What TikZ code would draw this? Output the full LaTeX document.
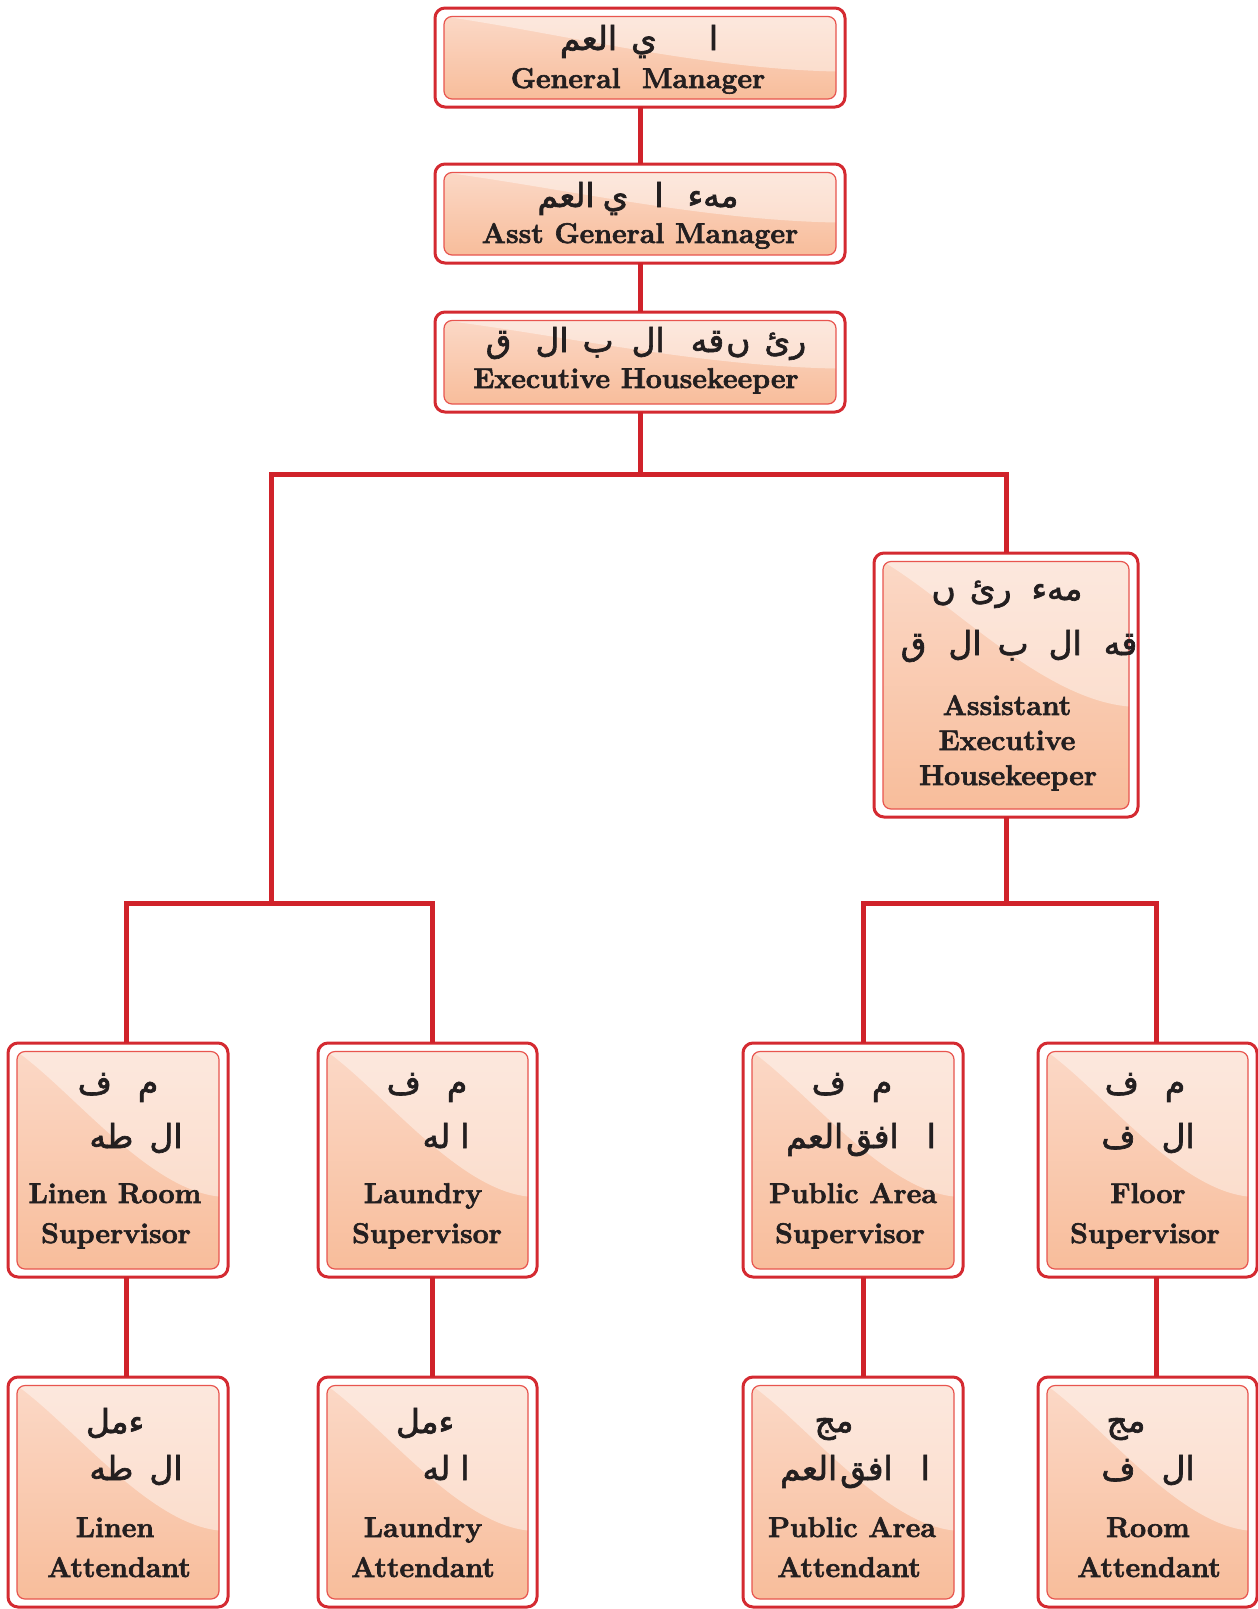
\documentclass[tikz,border=0pt]{standalone}
\usepackage{fontspec}
\setmainfont{Latin Modern Roman}[BoldFeatures={FakeBold=2.2}]
\newfontfamily\arabicfont[Script=Arabic,FakeBold=2]{DejaVu Sans}
\TeXXeTstate=1
\usetikzlibrary{calc}
\definecolor{boxred}{HTML}{D42A31}
\definecolor{linkred}{HTML}{D0222A}
\definecolor{innerred}{HTML}{E8554F}
\definecolor{peachtop}{HTML}{FBD8C6}
\definecolor{peachbot}{HTML}{F8BD9B}
\definecolor{inktext}{HTML}{231F20}
\newcommand\ar[1]{{\arabicfont\beginR #1\endR}}
\newcommand\orgbox[6]{%
  \node[outerbox, minimum width={(#4-#2)*1pt}, minimum height={(#5-#3)*1pt}] (#1) at (#2,#3) {};
  \pgfmathsetmacro\bL{#2+9}\pgfmathsetmacro\bT{#3+8.5}%
  \pgfmathsetmacro\bR{#4-9}\pgfmathsetmacro\bB{#5-8}%
  \pgfmathsetmacro\bW{\bR-\bL}\pgfmathsetmacro\bH{#6}%
  \shade[top color=peachtop, bottom color=peachbot, rounded corners=8pt] (\bL,\bT) rectangle (\bR,\bB);
  \begin{scope}
    \clip[rounded corners=8pt] (\bL,\bT) rectangle (\bR,\bB);
    \fill[white, fill opacity=0.42] (\bL,\bT) .. controls ({\bL+0.28*\bW},{\bT+0.28*\bH}) and ({\bL+0.65*\bW},{\bT+0.95*\bH}) .. (\bR,{\bT+\bH}) -- (\bR,\bT) -- cycle;
  \end{scope}
  \draw[innerred, line width=1.2pt, rounded corners=8pt] (\bL,\bT) rectangle (\bR,\bB);
}
\begin{document}
\begin{tikzpicture}[x=1pt,y=-1pt,
  outerbox/.style={draw=boxred, line width=3pt, rounded corners=10pt, fill=white, inner sep=0pt, outer sep=0pt, anchor=north west},
  link/.style={draw=linkred, line width=5pt, line join=miter},
  entext/.style={font=\fontsize{28.5}{34}\selectfont\bfseries, text=inktext, inner sep=0pt, anchor=base},
  artext/.style={font=\fontsize{33}{36}\selectfont, text=inktext, inner sep=0pt, anchor=base}]
\useasboundingbox (0,0) rectangle (1258,1609);

% boxes
\orgbox{gm}{435}{8}{845}{107}{55}
\orgbox{agm}{435}{164}{845}{263}{50}
\orgbox{eh}{435}{312}{845}{412}{48}
\orgbox{aeh}{874}{553}{1138}{817}{145}
\orgbox{lsup}{8}{1043}{228}{1277}{145}
\orgbox{dsup}{318}{1043}{537}{1277}{145}
\orgbox{psup}{743}{1043}{963}{1277}{145}
\orgbox{fsup}{1038}{1043}{1257}{1277}{145}
\orgbox{latt}{8}{1377}{228}{1607}{145}
\orgbox{datt}{318}{1377}{537}{1607}{145}
\orgbox{patt}{743}{1377}{963}{1607}{145}
\orgbox{ratt}{1038}{1377}{1257}{1607}{145}

% junction coordinates
\coordinate (j1) at (640,474);
\coordinate (jl) at (271,474);
\coordinate (jr) at (1006,474);
\coordinate (jl2) at (271,903);
\coordinate (ls1) at (126,903);
\coordinate (ls2) at (432,903);
\coordinate (rj) at (1006,903);
\coordinate (rs1) at (863,903);
\coordinate (rs2) at (1156,903);

% connectors
\draw[link] (gm.south) -- (agm.north);
\draw[link] (agm.south) -- (eh.north);
\draw[link] (eh.south) -- (j1);
\draw[link] (jl2) -- (jl) -- (jr) -- (aeh.north);
\draw[link] (ls1 |- lsup.north) -- (ls1) -- (ls2) -- (ls2 |- dsup.north);
\draw[link] (aeh.south) -- (rj);
\draw[link] (rs1 |- psup.north) -- (rs1) -- (rs2) -- (rs2 |- fsup.north);
\draw[link] (ls1 |- lsup.south) -- (ls1 |- latt.north);
\draw[link] (ls2 |- dsup.south) -- (ls2 |- datt.north);
\draw[link] (rs1 |- psup.south) -- (rs1 |- patt.north);
\draw[link] (rs2 |- fsup.south) -- (rs2 |- ratt.north);

% texts: top boxes
\node[artext] (gmA) at (639,50) {\ar{ا\hspace{52pt}ي\hspace{14pt}العم}};
\node[entext] (gmE) at (638,88) {General~~Manager};
\node[artext] (agmA) at (638,207) {\ar{مهء\hspace{24pt}ا\hspace{26pt}ي\hspace{8pt}العم}};
\node[entext] (agmE) at (640,243) {Asst General Manager};
\node[artext] (ehA) at (646,352) {\ar{رئ\hspace{14pt}ں\hspace{2pt}قه\hspace{26pt}ال\hspace{18pt}ب\hspace{14pt}ال\hspace{24pt}ق}};
\node[entext] (ehE) at (636,388) {Executive Housekeeper};

% assistant executive housekeeper
\node[artext] (aehA1) at (1007,600) {\ar{مهء\hspace{20pt}رئ\hspace{14pt}ں}};
\node[artext] (aehA2) at (1019,655) {\ar{قه\hspace{22pt}ال\hspace{20pt}ب\hspace{16pt}ال\hspace{22pt}ق}};
\node[entext] (aehE1) at (1007,715) {Assistant};
\node[entext] (aehE2) at (1007,750) {Executive};
\node[entext] (aehE3) at (1008,785) {Housekeeper};

% supervisors
\node[artext] (lsupA1) at (118,1094) {\ar{م\hspace{26pt}ف}};
\node[artext] (lsupA2) at (136,1148) {\ar{ال\hspace{16pt}طه}};
\node[entext] (lsupE1) at (115,1203) {Linen Room};
\node[entext] (lsupE2) at (116,1243) {Supervisor};

\node[artext] (dsupA1) at (427,1094) {\ar{م\hspace{26pt}ف}};
\node[artext] (dsupA2) at (446,1148) {\ar{ا\hspace{10pt}له}};
\node[entext] (dsupE1) at (423,1203) {Laundry};
\node[entext] (dsupE2) at (427,1243) {Supervisor};

\node[artext] (psupA1) at (852,1094) {\ar{م\hspace{26pt}ف}};
\node[artext] (psupA2) at (861,1148) {\ar{ا\hspace{28pt}افق\hspace{3pt}العم}};
\node[entext] (psupE1) at (853,1203) {Public Area};
\node[entext] (psupE2) at (850,1243) {Supervisor};

\node[artext] (fsupA1) at (1145,1094) {\ar{م\hspace{26pt}ف}};
\node[artext] (fsupA2) at (1148,1148) {\ar{ال\hspace{26pt}ف}};
\node[entext] (fsupE1) at (1148,1203) {Floor};
\node[entext] (fsupE2) at (1145,1243) {Supervisor};

% attendants
\node[artext] (lattA1) at (115,1433) {\ar{ءمل}};
\node[artext] (lattA2) at (136,1480) {\ar{ال\hspace{16pt}طه}};
\node[entext] (lattE1) at (115,1537) {Linen};
\node[entext] (lattE2) at (119,1577) {Attendant};

\node[artext] (dattA1) at (425,1433) {\ar{ءمل}};
\node[artext] (dattA2) at (446,1480) {\ar{ا\hspace{10pt}له}};
\node[entext] (dattE1) at (423,1537) {Laundry};
\node[entext] (dattE2) at (423,1577) {Attendant};

\node[artext] (pattA1) at (834,1432) {\ar{مج}};
\node[artext] (pattA2) at (855,1480) {\ar{ا\hspace{28pt}افق\hspace{3pt}العم}};
\node[entext] (pattE1) at (852,1537) {Public Area};
\node[entext] (pattE2) at (849,1577) {Attendant};

\node[artext] (rattA1) at (1126,1432) {\ar{مج}};
\node[artext] (rattA2) at (1148,1480) {\ar{ال\hspace{26pt}ف}};
\node[entext] (rattE1) at (1148,1537) {Room};
\node[entext] (rattE2) at (1149,1577) {Attendant};
\end{tikzpicture}
\end{document}
